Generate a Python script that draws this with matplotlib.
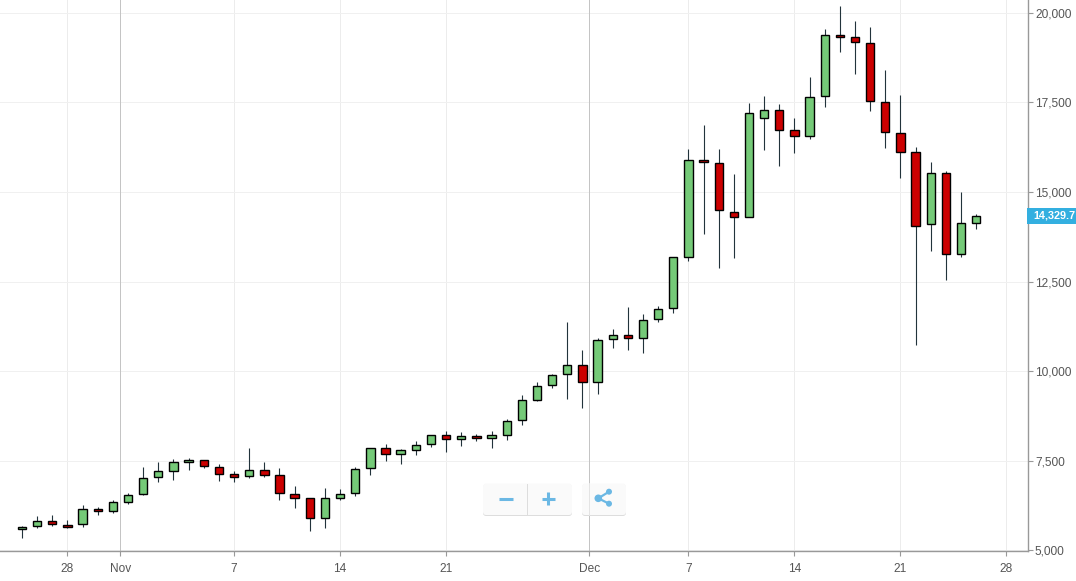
import matplotlib
matplotlib.use("Agg")
import matplotlib.pyplot as plt
from matplotlib.patches import FancyBboxPatch, Circle, Rectangle

opens = [5592, 5685, 5825, 5713, 5732, 6160, 6095, 6346, 6569, 7044, 7212, 7463, 7528, 7332, 7137, 7072,
         7249, 7109, 6579, 6467, 5899, 6458, 6597, 7305, 7863, 7686, 7798, 7965, 8226, 8105, 8198, 8133,
         8217, 8645, 9203, 9622, 9929, 10180, 9705, 10906, 11018, 10934, 11464, 11762, 13185, 15893, 15810, 14451,
         14293, 17057, 17289, 16731, 16554, 17671, 19383, 19327, 19160, 17513, 16647, 16117, 14097, 15530, 13260, 14135]
closes = [5657, 5825, 5732, 5648, 6160, 6095, 6355, 6551, 7025, 7221, 7472, 7528, 7351, 7128, 7063, 7249,
          7100, 6597, 6458, 5899, 6467, 6579, 7277, 7863, 7686, 7807, 7947, 8226, 8105, 8198, 8133, 8226,
          8617, 9203, 9594, 9901, 10180, 9705, 10878, 11018, 10934, 11436, 11743, 13185, 15893, 15828, 14488, 14293,
          17205, 17289, 16722, 16554, 17652, 19383, 19318, 19178, 17541, 16666, 16107, 14041, 15530, 13260, 14135, 14330]
highs = [5695, 5974, 5983, 5853, 6281, 6216, 6411, 6607, 7342, 7481, 7556, 7593, 7528, 7416, 7221, 7872,
         7481, 7314, 6802, 6467, 6756, 6728, 7332, 7863, 7975, 7835, 8058, 8226, 8338, 8291, 8254, 8319,
         8663, 9343, 9687, 9929, 11362, 10580, 10934, 11185, 11780, 11585, 11827, 13185, 16210, 16880, 16210, 15512,
         17494, 17689, 17466, 17075, 18211, 19551, 20174, 19783, 19588, 18406, 17717, 16266, 15847, 15596, 15009, 14386]
lows = [5341, 5620, 5676, 5620, 5648, 6002, 6058, 6309, 6541, 6904, 6979, 7258, 7295, 6932, 6904, 7025,
        7044, 6402, 6197, 5536, 5620, 6402, 6514, 7100, 7500, 7407, 7649, 7882, 7742, 7909, 8049, 7854,
        8077, 8505, 9156, 9529, 9222, 8970, 9361, 10645, 10599, 10506, 11371, 11613, 13074, 13818, 12888, 13167,
        14293, 16163, 15717, 16079, 16470, 17364, 18918, 18285, 17252, 16219, 15382, 10719, 13362, 12553, 13176, 13958]

y_ticks = [5000, 7500, 10000, 12500, 15000, 17500, 20000]
x_ticks = [3, 6.5, 14, 21, 28, 37.45, 44, 51, 58, 65]
x_labels = ["28", "Nov", "7", "14", "21", "Dec", "7", "14", "21", "28"]
month_ticks = [6.5, 37.45]
last_price = "14,329.7"

GREEN = "#75ca78"
RED = "#cc0000"
GREY = "#999999"
TEXT = "#555555"
BLUE = "#6bb8e4"

plt.rcParams["font.family"] = ["Liberation Sans", "DejaVu Sans"]

W, H = 1076, 581
fig = plt.figure(figsize=(W / 100, H / 100), dpi=100)
ax = fig.add_axes([0, (H - 551) / H, 1028 / W, 551 / H])

idx = list(range(len(opens)))
colors = [GREEN if c >= o else RED for o, c in zip(opens, closes)]
bottoms = [min(o, c) for o, c in zip(opens, closes)]
heights = [abs(c - o) for o, c in zip(opens, closes)]

ax.vlines(idx, lows, highs, color="#22333b", lw=0.8, zorder=3)
ax.bar(idx, heights, bottom=bottoms, width=0.55, color=colors, edgecolor="black", linewidth=1.0, zorder=4)

ax.set_xlim(-1.453, 66.42)
ax.set_ylim(4985, 20355)
ax.set_xticks(x_ticks)
ax.set_xticklabels(x_labels)
ax.set_yticks(y_ticks)
ax.set_yticklabels([f"{v:,}" for v in y_ticks])
ax.yaxis.tick_right()

ax.grid(True, axis="y", color="#f0f0f0", lw=0.72)
ax.grid(True, axis="x", color="#ececec", lw=0.72)
# month lines have to sit above the grid, which matplotlib draws at zorder 1.5
for m in month_ticks:
    ax.axvline(m, color="#c4c4c4", lw=0.72, zorder=2)

ax.tick_params(axis="both", length=3.5, width=0.8, color=GREY, labelcolor=TEXT, labelsize=8.6)
ax.tick_params(axis="x", pad=5)
ax.tick_params(axis="y", pad=1.5)
ax.spines["top"].set_visible(False)
ax.spines["left"].set_visible(False)
ax.spines["right"].set_color(GREY)
ax.spines["bottom"].set_color(GREY)
ax.spines["right"].set_linewidth(1.0)
ax.spines["bottom"].set_linewidth(1.0)

# overlay in pixel coordinates for the chart's widgets
ui = fig.add_axes([0, 0, 1, 1], zorder=10)
ui.set_xlim(0, W)
ui.set_ylim(H, 0)
ui.axis("off")
ui.patch.set_alpha(0)


def button(x0, x1, y0, y1):
    ui.add_patch(FancyBboxPatch((x0, y0 + 1), x1 - x0, y1 - y0, boxstyle="round,pad=0,rounding_size=3",
                                fc="#dddddd", ec="none", zorder=1))
    ui.add_patch(FancyBboxPatch((x0, y0), x1 - x0, y1 - y0, boxstyle="round,pad=0,rounding_size=3",
                                fc="#fafafa", ec="none", zorder=2))


button(483, 572, 483.5, 515)
button(582, 626, 483.5, 515)
ui.plot([589, 589], [483.5, 515], color="#e4e4e4", lw=0.72, zorder=3)
ui.plot([526.7, 526.7], [483.5, 515], color="#dddddd", lw=0.72, zorder=3)
ui.plot([499, 512.5], [498.5, 498.5], color=BLUE, lw=2.2, solid_capstyle="butt", zorder=3)
ui.plot([541.8, 554.8], [498.5, 498.5], color=BLUE, lw=2.2, solid_capstyle="butt", zorder=3)
ui.plot([548.3, 548.3], [492, 505], color=BLUE, lw=2.2, solid_capstyle="butt", zorder=3)
ui.plot([609, 598.3, 609], [491.7, 498.3, 503.7], color=BLUE, lw=1.6, zorder=3)
for cx, cy, r in [(609, 491.7, 3), (609, 503.7, 3), (598.3, 498.3, 3.8)]:
    ui.add_patch(Circle((cx, cy), r, fc=BLUE, ec="none", zorder=4))

# last price flag
ui.add_patch(Rectangle((1027, 207.5), 49, 16, fc="#33afe0", ec="none", zorder=2))
ui.text(1033, 215.5, last_price, color="white", fontsize=7.8, fontweight="bold", va="center", ha="left",
        zorder=3, clip_on=True)

fig.savefig("out.png", dpi=100)
